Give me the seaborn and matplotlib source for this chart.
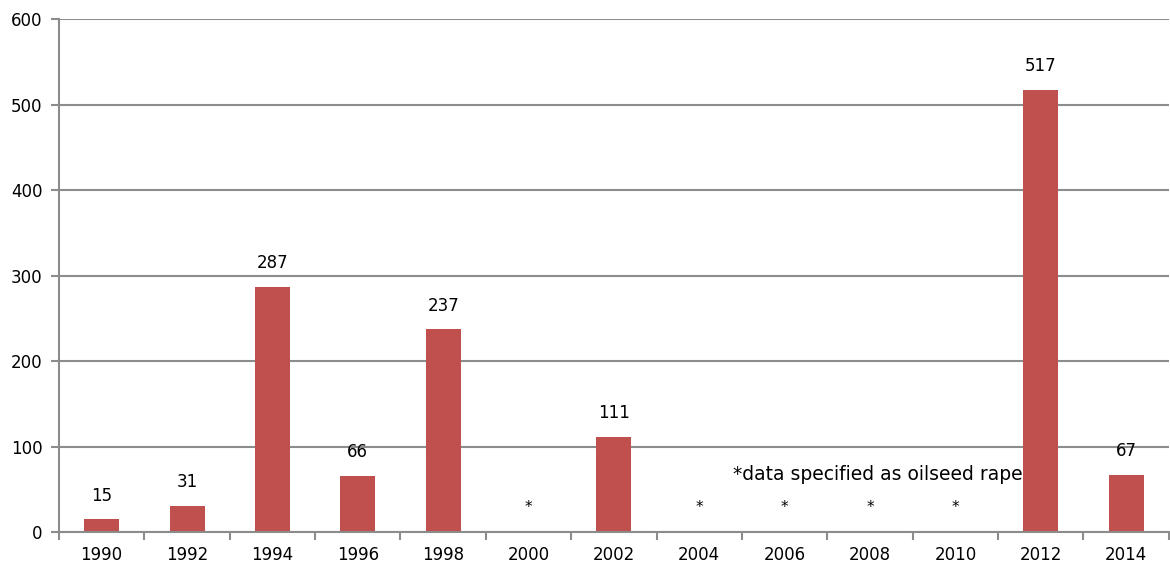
import numpy as np
import pandas as pd
import matplotlib
matplotlib.use("Agg")
import matplotlib.pyplot as plt
import seaborn as sns

# Values; None = not reported ("*")
years = ["1990", "1992", "1994", "1996", "1998", "2000", "2002",
         "2004", "2006", "2008", "2010", "2012", "2014"]
values = [15, 31, 287, 66, 237, None, 111, None, None, None, None, 517, 67]
footnote = "*data specified as oilseed rape"
y_ticks = [0, 100, 200, 300, 400, 500, 600]

BAR_COLOR = "#C0504D"
GRID_COLOR = "#8C8C8C"

sns.set_theme(style="white")
plt.rcParams.update({
    "font.family": ["DejaVu Sans"],
    "font.size": 12,
    "text.color": "black",
    "xtick.color": "black",
    "ytick.color": "black",
})

df = pd.DataFrame({"year": years,
                   "value": [v if v is not None else 0 for v in values]})

fig = plt.figure(figsize=(11.7, 5.69), dpi=100)
ax = fig.add_axes([0.0504, 0.065, 0.9486, 0.9016])

sns.barplot(data=df, x="year", y="value", order=years, color=BAR_COLOR,
            saturation=1, width=0.41, linewidth=0, ax=ax)

ax.set_ylim(0, 600)
ax.set_xlim(-0.5, len(years) - 0.5)
ax.set_yticks(y_ticks)
ax.set_xlabel("")
ax.set_ylabel("")

# gridlines
ax.yaxis.grid(True, color=GRID_COLOR, linewidth=1.5)
ax.set_axisbelow(True)

for side in ["top", "right"]:
    ax.spines[side].set_visible(False)
for side in ["left", "bottom"]:
    ax.spines[side].set_color(GRID_COLOR)
    ax.spines[side].set_linewidth(1.5)

# ticks: y outward, x at category boundaries
ax.tick_params(axis="y", which="major", length=6, width=1.5, color=GRID_COLOR,
               labelcolor="black", direction="out", left=True, labelsize=12, pad=6)
ax.set_xticks(np.arange(-0.5, len(years), 1.0), minor=True)
ax.tick_params(axis="x", which="minor", length=6, width=1.5, color=GRID_COLOR,
               direction="out", bottom=True)
ax.tick_params(axis="x", which="major", length=0, labelsize=12, pad=10,
               labelcolor="black")

# value labels
for i, v in enumerate(values):
    if v is None:
        ax.annotate("*", (i, 0), xytext=(0, 18), textcoords="offset points",
                    ha="center", va="center", fontsize=11, color="black")
    else:
        ax.annotate(str(v), (i, v), xytext=(0, 17), textcoords="offset points",
                    ha="center", va="center", fontsize=12, color="black")

ax.text(0.607, 0.113, footnote, transform=ax.transAxes, ha="left",
        va="center", fontsize=13.5, color="black")

fig.savefig("out.png", dpi=100)
